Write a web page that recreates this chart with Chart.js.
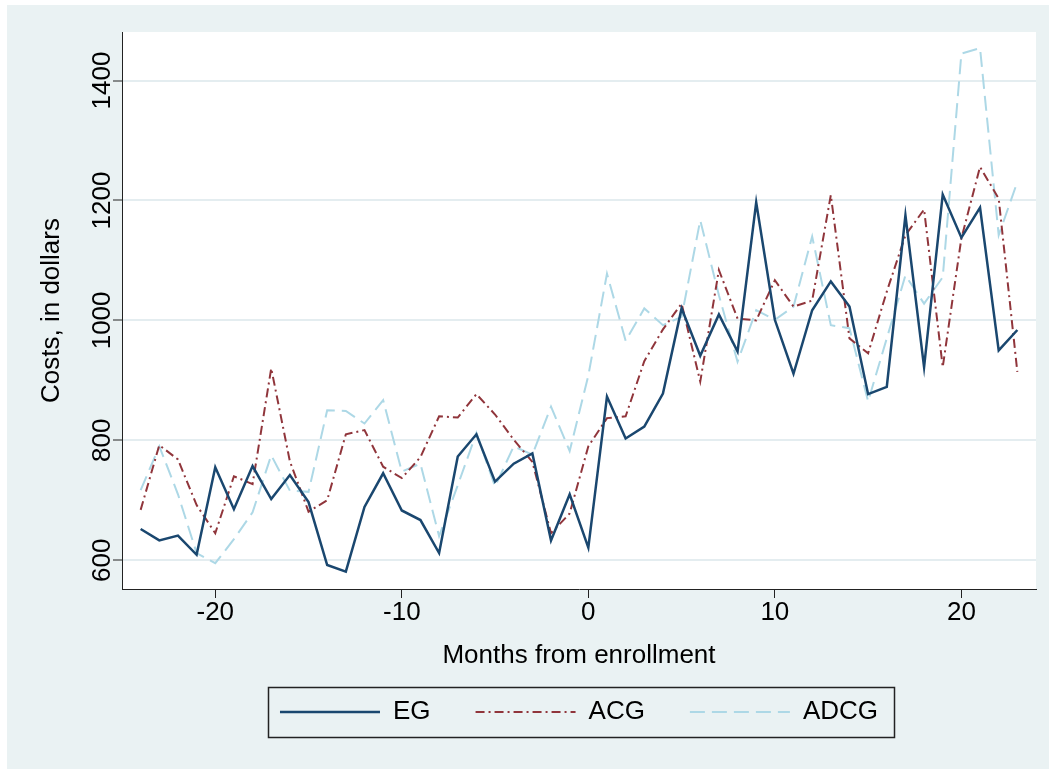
<!DOCTYPE html>
<html><head><meta charset="utf-8">
<script src="https://cdn.jsdelivr.net/npm/chart.js@4/dist/chart.umd.min.js"></script>
<style>html,body{margin:0;padding:0;background:#fff}canvas{display:block}</style>
</head><body>
<canvas id="c" width="1049" height="769"></canvas>
<script>
const months = [-24,-23,-22,-21,-20,-19,-18,-17,-16,-15,-14,-13,-12,-11,-10,-9,-8,-7,-6,-5,-4,-3,-2,-1,0,1,2,3,4,5,6,7,8,9,10,11,12,13,14,15,16,17,18,19,20,21,22,23];
const eg = [652,633,641,609,755,685,757,702,742,697,592,581,689,745,683,667,612,773,810,731,761,778,633,710,621,873,803,823,878,1020,941,1010,948,1197,1001,911,1017,1065,1023,877,889,1175,922,1210,1138,1188,950,984];
const acg = [684,792,768,692,645,740,727,920,765,681,700,810,817,756,737,772,840,838,877,843,801,764,645,678,790,837,840,932,985,1028,898,1084,1003,1000,1067,1023,1033,1209,970,945,1048,1142,1185,922,1137,1256,1203,914];
const adcg = [717,790,710,612,595,635,680,775,716,714,850,849,828,867,748,761,640,725,812,723,790,776,856,782,908,1078,966,1020,992,1006,1167,1042,931,1017,1001,1023,1140,992,987,865,970,1075,1028,1072,1445,1454,1142,1231];
const seriesNames = ['EG','ACG','ADCG'];
const xTicks = [-20,-10,0,10,20];
const yTicks = [600,800,1000,1200,1400];
const xTitle = 'Months from enrollment';
const yTitle = 'Costs, in dollars';

const FONT = 'Liberation Sans, Arial, Helvetica, sans-serif';
const pts = arr => months.map((m, i) => ({x: m, y: arr[i]}));
const LEGEND_LINE = 100;

const bgPlugin = {
  id: 'bg',
  beforeDraw(chart) {
    const {ctx, chartArea: a} = chart;
    ctx.save();
    ctx.fillStyle = '#ffffff';
    ctx.fillRect(0, 0, chart.width, chart.height);
    ctx.fillStyle = '#EAF2F3';
    ctx.fillRect(7, 5, chart.width - 7, chart.height - 5);
    ctx.fillStyle = '#ffffff';
    ctx.fillRect(a.left, a.top, a.right - a.left, a.bottom - a.top);
    ctx.restore();
  }
};
const legendFrame = {
  id: 'legendFrame',
  afterDraw(chart) {
    const lg = chart.legend;
    if (!lg || !lg.legendHitBoxes || !lg.legendHitBoxes.length) return;
    const hb = lg.legendHitBoxes;
    const f = hb[0], l = hb[hb.length - 1];
    const cy = f.top + f.height / 2;
    const ctx = chart.ctx;
    ctx.save();
    // sample lines, styled like their datasets
    hb.forEach((b, i) => {
      const ds = chart.data.datasets[i];
      ctx.strokeStyle = ds.borderColor;
      ctx.lineWidth = ds.borderWidth;
      ctx.setLineDash(ds.borderDash || []);
      ctx.lineCap = 'butt';
      ctx.beginPath();
      ctx.moveTo(b.left, Math.round(cy));
      ctx.lineTo(b.left + LEGEND_LINE, Math.round(cy));
      ctx.stroke();
    });
    ctx.strokeStyle = '#222';
    ctx.lineWidth = 1.5;
    ctx.setLineDash([]);
    const x0 = Math.round(f.left - 12) + 0.5, x1 = Math.round(l.left + l.width + 16) + 0.5;
    ctx.strokeRect(x0, Math.round(cy - 25) + 0.5, x1 - x0, 50);
    ctx.restore();
  }
};

new Chart(document.getElementById('c'), {
  type: 'line',
  data: {
    datasets: [
      {label: seriesNames[0], data: pts(eg), borderColor: '#1A476F', backgroundColor: '#1A476F', borderWidth: 2.5, pointRadius: 0, tension: 0},
      {label: seriesNames[1], data: pts(acg), borderColor: '#90353B', backgroundColor: '#90353B', borderWidth: 2, borderDash: [9,4,2,4], pointRadius: 0, tension: 0},
      {label: seriesNames[2], data: pts(adcg), borderColor: '#ADD8E6', backgroundColor: '#ADD8E6', borderWidth: 2, borderDash: [15,7], pointRadius: 0, tension: 0}
    ]
  },
  options: {
    responsive: false,
    animation: false,
    devicePixelRatio: 1,
    layout: {padding: {left: 0, top: 32, right: 13, bottom: 34}},
    plugins: {
      tooltip: {enabled: false},
      legend: {
        position: 'bottom',
        fullSize: false,
        labels: {
          usePointStyle: true,
          pointStyle: 'line',
          pointStyleWidth: LEGEND_LINE,
          padding: 45,
          color: '#000',
          font: {family: FONT, size: 26},
          generateLabels: chart => Chart.defaults.plugins.legend.labels.generateLabels(chart).map(it => Object.assign(it, {strokeStyle: 'rgba(0,0,0,0)', fillStyle: 'rgba(0,0,0,0)', lineWidth: 0}))
        }
      }
    },
    scales: {
      x: {
        type: 'linear',
        min: -25, max: 24,
        afterBuildTicks: s => { s.ticks = xTicks.map(v => ({value: v})); },
        grid: {display: true, drawOnChartArea: false, drawTicks: true, tickLength: 9, tickColor: '#222', tickWidth: 1},
        border: {display: true, color: '#222', width: 1},
        ticks: {color: '#000', padding: 2, maxRotation: 0, font: {family: FONT, size: 26, lineHeight: 1}, callback: v => String(v)},
        title: {display: true, text: xTitle, color: '#000', font: {family: FONT, size: 26, lineHeight: 1}, padding: {top: 15, bottom: -15}}
      },
      y: {
        type: 'linear',
        min: 552, max: 1481,
        afterBuildTicks: s => { s.ticks = yTicks.map(v => ({value: v})); },
        afterFit: s => { s.width = 122; },
        grid: {color: '#E4EDF0', lineWidth: 2, drawTicks: true, tickLength: 9, tickColor: '#222', tickWidth: 1},
        border: {display: true, color: '#222', width: 1},
        ticks: {color: '#000', padding: -19, minRotation: 90, maxRotation: 90, crossAlign: 'center', font: {family: FONT, size: 26, lineHeight: 1}, callback: v => String(v)},
        title: {display: true, text: yTitle, color: '#000', font: {family: FONT, size: 26, lineHeight: 1}, padding: {top: 39, bottom: 0}}
      }
    }
  },
  plugins: [bgPlugin, legendFrame]
});
</script>
</body></html>
